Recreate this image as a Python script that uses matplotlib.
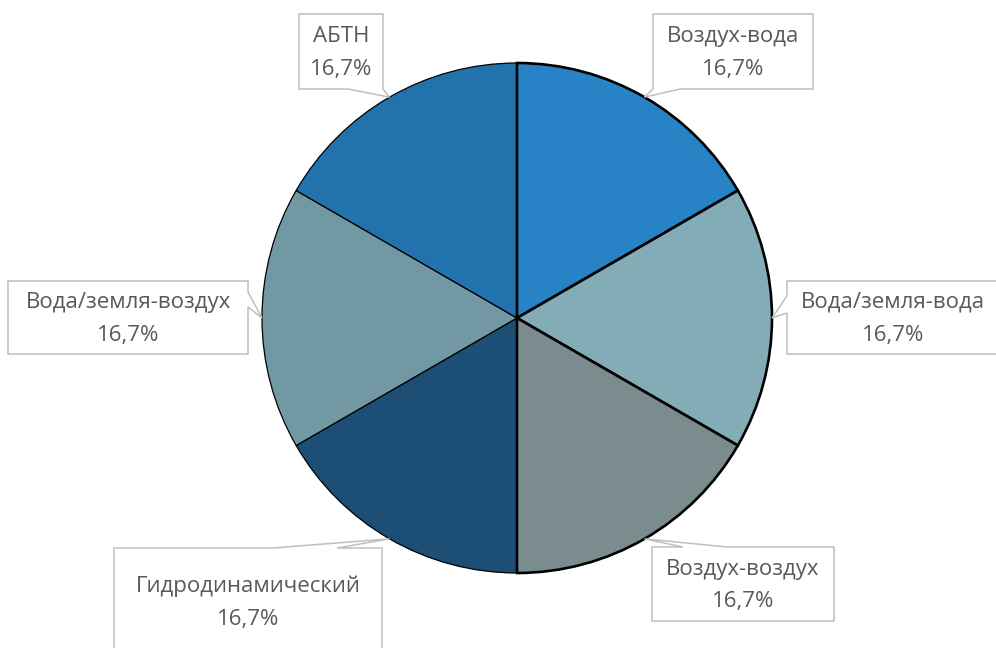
import numpy as np
import matplotlib
matplotlib.use("Agg")
import matplotlib.pyplot as plt
from matplotlib.patches import Polygon

# Heat-pump types (clockwise from 12 o'clock) and their shares
categories = ["Воздух-вода", "Вода/земля-вода", "Воздух-воздух",
              "Гидродинамический", "Вода/земля-воздух", "АБТН"]
shares = [16.7, 16.7, 16.7, 16.7, 16.7, 16.7]
colors = ["#2883C6", "#84ACB6", "#7A8C8E", "#1C4E76", "#7198A3", "#2272AE"]

W, H = 996, 648
CX, CY, R = 517, 318, 255

plt.rcParams["font.family"] = ["Open Sans", "DejaVu Sans"]

fig = plt.figure(figsize=(W / 100, H / 100), dpi=100)
ax = fig.add_axes([0, 0, 1, 1])


def P(x, y):
    """Pixel coordinates (origin top-left) to axes data coordinates."""
    return (x, H - y)


wedges, _ = ax.pie(shares, colors=colors, startangle=90, counterclock=False,
                   center=P(CX, CY), radius=R,
                   wedgeprops=dict(edgecolor="black", linewidth=0.9))
# right half has heavier outlines; draw it on top
for i, w in enumerate(wedges):
    if i < 3:
        w.set_linewidth(1.9)
        w.set_zorder(3)
    else:
        w.set_zorder(2)

ax.set_xlim(0, W)
ax.set_ylim(0, H)
ax.set_aspect("equal")
ax.axis("off")

# callout boxes: box rectangle (x0, y0, x1, y1), side the pointer leaves from,
# and the two points along that side where the pointer starts
boxes = [
    ((653, 14, 813, 89), "bottom", (653, 680)),
    ((787, 281, 999, 354), "left", (296, 313)),
    ((652, 547, 834, 621), "top", (683, 727)),
    ((114, 548, 382, 655), "top", (273, 337)),
    ((8, 281, 248, 354), "right", (292, 307)),
    ((299, 14, 383, 89), "bottom", (348, 383)),
]

total = sum(shares)
theta = 90.0
for name, val, (box, side, base) in zip(categories, shares, boxes):
    span = 360.0 * val / total
    mid = np.deg2rad(theta - span / 2)
    theta -= span
    tip = (CX + R * np.cos(mid), CY - R * np.sin(mid))
    x0, y0, x1, y1 = box
    a, b = base
    if side == "bottom":
        pts = [(x0, y0), (x1, y0), (x1, y1), (b, y1), tip, (a, y1), (x0, y1)]
    elif side == "top":
        pts = [(x0, y0), (a, y0), tip, (b, y0), (x1, y0), (x1, y1), (x0, y1)]
    elif side == "left":
        pts = [(x0, y0), (x1, y0), (x1, y1), (x0, y1), (x0, b), tip, (x0, a)]
    else:
        pts = [(x0, y0), (x1, y0), (x1, a), tip, (x1, b), (x1, y1), (x0, y1)]
    ax.add_patch(Polygon([P(*p) for p in pts], closed=True, facecolor="white",
                         edgecolor="#BFBFBF", linewidth=1.1, zorder=4,
                         clip_on=False))
    cx = (x0 + x1) / 2
    cy = (y0 + y1) / 2 if y1 - y0 < 90 else y0 + 53
    ax.text(*P(cx, cy - 15), name, ha="center", va="center",
            fontsize=16, color="#595959", zorder=5)
    ax.text(*P(cx, cy + 18), f"{val:.1f}%".replace(".", ","),
            ha="center", va="center", fontsize=16, color="#595959", zorder=5)

fig.savefig("out.png", dpi=100, facecolor="white")
